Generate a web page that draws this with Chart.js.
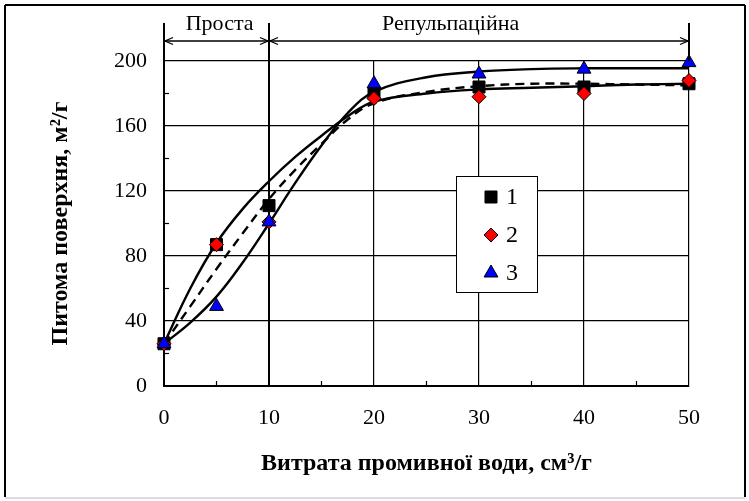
<!DOCTYPE html>
<html><head><meta charset="utf-8">
<script src="https://cdn.jsdelivr.net/npm/chart.js@4/dist/chart.umd.min.js"></script>
<style>html,body{margin:0;padding:0;background:#fff}canvas{display:block}</style>
</head><body>
<canvas id="c" width="749" height="501" style="width:749px;height:501px"></canvas>
<script>
// ---- data ----
const xValues = [0, 5, 10, 20, 30, 40, 50];
const series1 = [26, 87, 111, 180, 184, 184, 186];   // squares
const series2 = [26, 87, 101, 177, 178, 180, 188];   // diamonds
const series3 = [26, 49, 101, 186, 192, 195, 199];   // triangles
const seriesNames = ['1', '2', '3'];
// smoothed trend curves
const curveX = [0, 2.5, 5, 7.5, 10, 12.5, 15, 17.5, 20, 25, 30, 35, 40, 45, 50];
const curveA = [26, 60, 88, 109, 126, 141, 154, 166, 175, 180, 182.5, 183.5, 184.5, 185.5, 186];
const curveB = [26, 49, 72, 94, 115, 133, 149, 164, 174, 181, 184.5, 186, 186, 185.5, 185];
const curveC = [26, 39, 55, 76, 100, 125, 148, 168, 181, 190, 193.5, 195, 195.5, 195.5, 195.5];
const xTicks = [0, 10, 20, 30, 40, 50];
const yTicks = [0, 40, 80, 120, 160, 200];
const xMinor = [5, 15, 25, 35, 45];
const yMinor = [20, 60, 100, 140, 180];
const regionBounds = [0, 10, 50];
const regionLabels = ['Проста', 'Репульпаційна'];
const regionLabelAt = [5.3, 27.3];
const xTitle = 'Витрата промивної води, см³/г';
const yTitle = 'Питома поверхня, м²/г';

const FONT = '"Liberation Serif", "Times New Roman", serif';
const pts = (xs, ys) => xs.map((v, i) => ({x: v, y: ys[i]}));

const markerStyles = [
  {style: 'rect', radius: 8.5, fill: '#000000'},
  {style: 'rectRot', radius: 7, fill: '#ff0000'},
  {style: 'triangle', radius: 8, fill: '#0000ff'}
];

function drawMarker(ctx, style, r, x, y, fill) {
  ctx.save();
  ctx.fillStyle = fill; ctx.strokeStyle = '#000'; ctx.lineWidth = 1;
  ctx.beginPath();
  if (style === 'rect') {
    const s = Math.SQRT1_2 * r;
    ctx.rect(x - s, y - s, 2 * s, 2 * s);
  } else if (style === 'rectRot') {
    ctx.moveTo(x - r, y); ctx.lineTo(x, y - r); ctx.lineTo(x + r, y); ctx.lineTo(x, y + r); ctx.closePath();
  } else {
    const a = -Math.PI / 2;
    for (let k = 0; k < 3; k++) {
      const ang = a + k * 2 * Math.PI / 3;
      const px = x + Math.cos(ang) * r, py = y + Math.sin(ang) * r;
      if (k === 0) ctx.moveTo(px, py); else ctx.lineTo(px, py);
    }
    ctx.closePath();
  }
  ctx.fill(); ctx.stroke();
  ctx.restore();
}

const decor = {
  id: 'decor',
  beforeDraw(chart) {
    const {ctx, width, height} = chart;
    ctx.save(); ctx.fillStyle = '#fff'; ctx.fillRect(0, 0, width, height); ctx.restore();
  },
  afterDraw(chart) {
    const {ctx, chartArea: ca, scales: {x, y}} = chart;
    ctx.save();
    ctx.strokeStyle = '#000';
    const line = (x1, y1, x2, y2) => { ctx.beginPath(); ctx.moveTo(x1, y1); ctx.lineTo(x2, y2); ctx.stroke(); };
    // minor ticks (inside)
    ctx.lineWidth = 1.2;
    xMinor.forEach(v => { const p = x.getPixelForValue(v); line(p, ca.bottom, p, ca.bottom - 5); });
    yMinor.forEach(v => { const p = y.getPixelForValue(v); line(ca.left, p, ca.left + 5, p); });
    // region annotations above the plot
    const topY = ca.top - 38, arrowY = ca.top - 20;
    ctx.lineWidth = 2;
    regionBounds.forEach(v => { const p = x.getPixelForValue(v); line(p, topY, p, ca.top); });
    ctx.lineWidth = 1.3;
    for (let i = 0; i < regionBounds.length - 1; i++) {
      const a = x.getPixelForValue(regionBounds[i]) + 1, b = x.getPixelForValue(regionBounds[i + 1]) - 1;
      line(a, arrowY, b, arrowY);
      ctx.beginPath(); ctx.moveTo(a + 8, arrowY - 3.5); ctx.lineTo(a, arrowY); ctx.lineTo(a + 8, arrowY + 3.5); ctx.stroke();
      ctx.beginPath(); ctx.moveTo(b - 8, arrowY - 3.5); ctx.lineTo(b, arrowY); ctx.lineTo(b - 8, arrowY + 3.5); ctx.stroke();
      ctx.fillStyle = '#000';
      ctx.font = '22px ' + FONT;
      ctx.textAlign = 'center'; ctx.textBaseline = 'alphabetic';
      ctx.fillText(regionLabels[i], x.getPixelForValue(regionLabelAt[i]), ca.top - 31);
    }
    // legend box
    const lx = ca.left + 292, ly = ca.top + 115, lw = 81, lh = 116;
    ctx.fillStyle = '#fff';
    ctx.fillRect(lx, ly, lw, lh);
    ctx.lineWidth = 1;
    ctx.strokeRect(lx + 0.5, ly + 0.5, lw, lh);
    ctx.font = '24px ' + FONT;
    ctx.textAlign = 'left'; ctx.textBaseline = 'middle';
    seriesNames.forEach((n, i) => {
      const cy = ly + 21 + i * 38;
      const m = markerStyles[i];
      drawMarker(ctx, m.style, m.radius, lx + 35, cy, m.fill);
      ctx.fillStyle = '#000';
      ctx.fillText(n, lx + 50, cy + 1);
    });
    // outer frame
    ctx.lineWidth = 2;
    ctx.strokeStyle = '#000';
    line(5, 5, 745, 5); line(5, 5, 5, 497); line(745, 5, 745, 497);
    ctx.strokeStyle = '#d0d0d0'; ctx.lineWidth = 1.5;
    line(5, 498, 745, 498);
    ctx.restore();
  }
};

const curveStyle = {pointRadius: 0, borderColor: '#000', borderWidth: 2.4, fill: false, tension: 0.4, showLine: true};
const pointStyle = (i) => ({showLine: false, clip: false, pointStyle: markerStyles[i].style, pointRadius: markerStyles[i].radius,
  pointBackgroundColor: markerStyles[i].fill, pointBorderColor: '#000', pointBorderWidth: 1,
  backgroundColor: markerStyles[i].fill, borderColor: '#000'});

new Chart(document.getElementById('c'), {
  type: 'line',
  data: {
    datasets: [
      Object.assign({label: seriesNames[2], data: pts(xValues, series3), order: 0}, pointStyle(2)),
      Object.assign({label: seriesNames[1], data: pts(xValues, series2), order: 1}, pointStyle(1)),
      Object.assign({label: seriesNames[0], data: pts(xValues, series1), order: 2}, pointStyle(0)),
      Object.assign({label: 'fitA', data: pts(curveX, curveA), order: 3}, curveStyle),
      Object.assign({label: 'fitB', data: pts(curveX, curveB), order: 4, borderDash: [9, 6]}, curveStyle),
      Object.assign({label: 'fitC', data: pts(curveX, curveC), order: 5}, curveStyle)
    ]
  },
  options: {
    responsive: false,
    devicePixelRatio: 1,
    animation: false,
    layout: {padding: {left: 0, top: 61, right: 60, bottom: 15}},
    plugins: {legend: {display: false}, tooltip: {enabled: false}},
    scales: {
      x: {
        type: 'linear', min: 0, max: 50,
        afterBuildTicks: s => { s.ticks = xTicks.map(v => ({value: v})); },
        afterFit: s => { s.height = 100; },
        ticks: {color: '#000', font: {family: FONT, size: 22}, padding: 19, autoSkip: false, maxRotation: 0},
        grid: {color: '#000', lineWidth: c => (c.tick && c.tick.value === 10) ? 2 : 1.2, drawTicks: false},
        border: {color: '#000', width: 2},
        title: {display: true, text: xTitle, color: '#000', font: {family: FONT, size: 24, weight: 'bold'}, padding: {top: 0, bottom: 8}}
      },
      y: {
        type: 'linear', min: 0, max: 200,
        afterBuildTicks: s => { s.ticks = yTicks.map(v => ({value: v})); },
        afterFit: s => { s.width = 164; },
        ticks: {color: '#000', font: {family: FONT, size: 22}, padding: 17},
        grid: {color: '#000', lineWidth: 1.2, drawTicks: false},
        border: {color: '#000', width: 2},
        title: {display: true, text: yTitle, color: '#000', font: {family: FONT, size: 24, weight: 'bold'}, padding: {top: 46, bottom: 0}}
      }
    }
  },
  plugins: [decor]
});
</script>
</body></html>
